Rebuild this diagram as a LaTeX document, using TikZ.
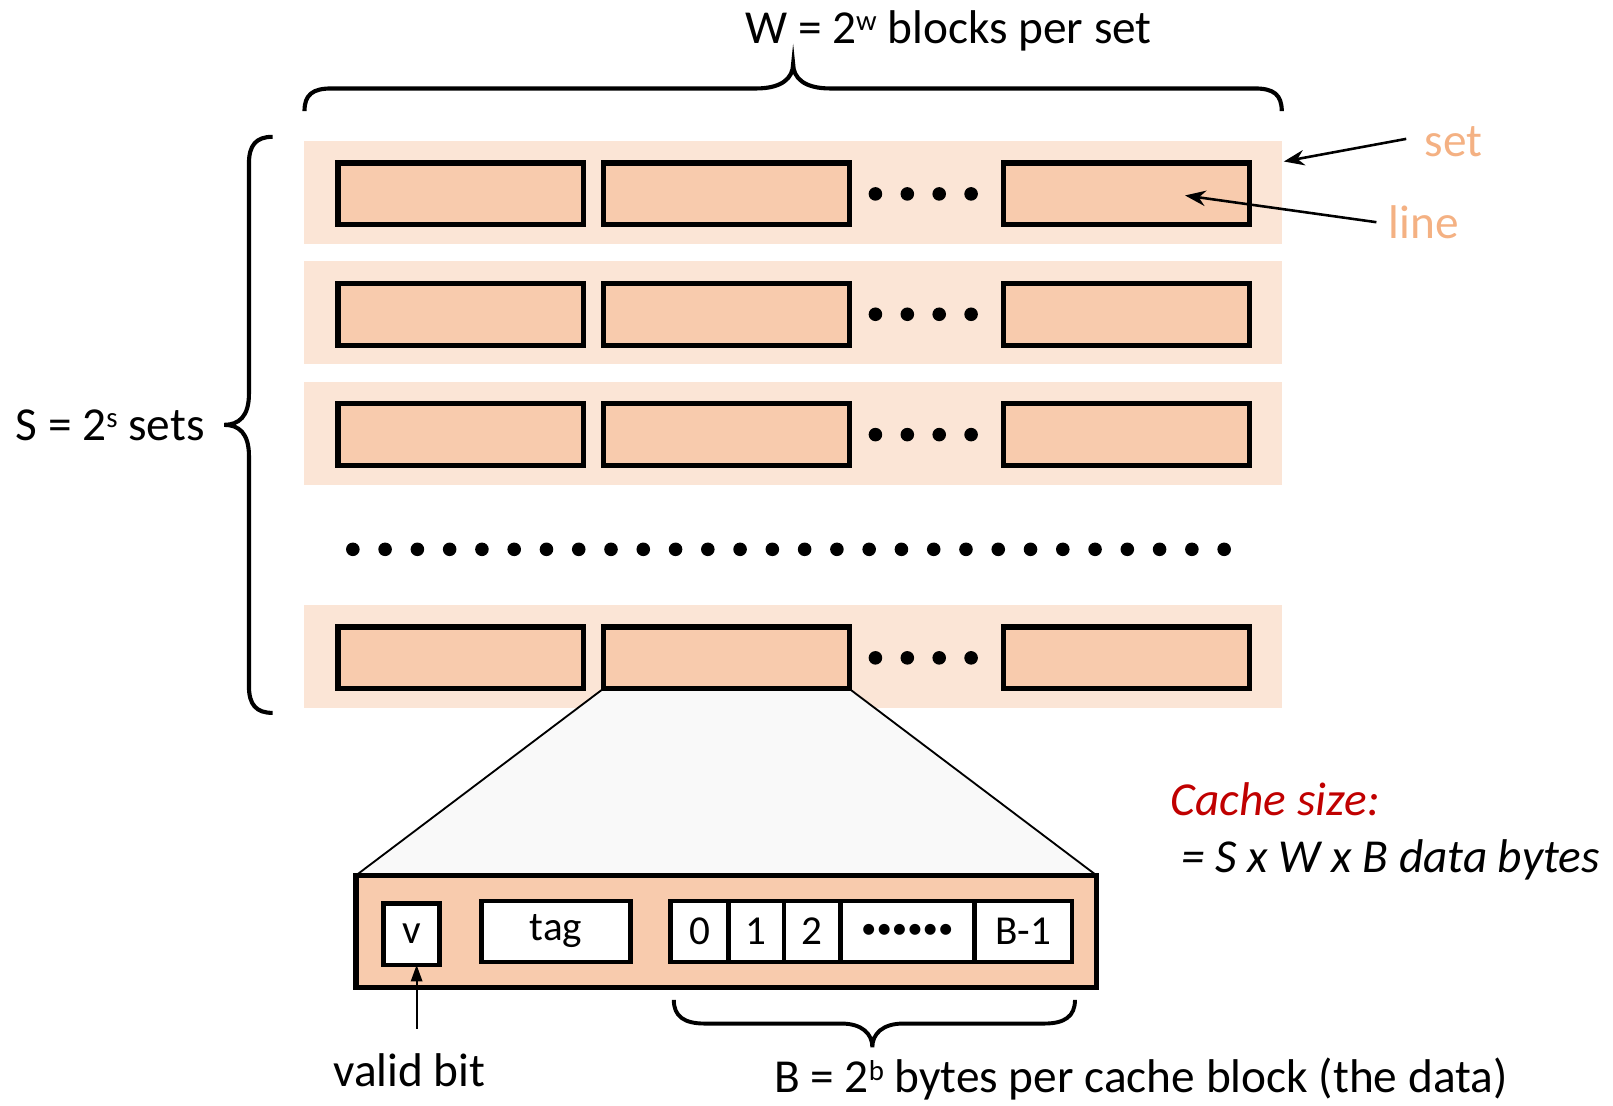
\documentclass[tikz,border=0pt]{standalone}
\usepackage{fontspec}
\setmainfont{Carlito}
\usetikzlibrary{arrows.meta,calc}
\definecolor{bandc}{HTML}{FBE5D6}
\definecolor{blkc}{HTML}{F8CBAD}
\definecolor{lblc}{HTML}{F4B183}
\definecolor{redc}{HTML}{C00000}
\definecolor{trapc}{HTML}{F9F9F9}
\pgfdeclarelayer{bandlayer}
\pgfdeclarelayer{traplayer}
\pgfsetlayers{bandlayer,traplayer,main}
\newcommand\mysup[1]{\raisebox{12pt}{\fontsize{28pt}{28pt}\selectfont #1}}
\begin{document}
\begin{tikzpicture}[x=1pt,y=-1pt,
  bigtxt/.style={font=\fontsize{46pt}{54pt}\selectfont, inner sep=0pt},
  celltxt/.style={font=\fontsize{40pt}{46pt}\selectfont},
  band/.style={rectangle, fill=bandc, draw=none, minimum width=950pt, minimum height=100pt, inner sep=0pt, outer sep=0pt},
  blk/.style={rectangle, fill=blkc, draw=black, line width=5pt, minimum width=239pt, minimum height=60pt, inner sep=0pt, outer sep=0pt},
  cell/.style={rectangle, fill=white, draw=black, line width=4.5pt, minimum height=59pt, inner sep=0pt, outer sep=0pt, celltxt},
  brc/.style={draw=black, line width=4pt},
  pointer/.style={-{Stealth[length=20pt,width=15pt]}, line width=2.5pt},
  ]
\useasboundingbox (0,0) rectangle (1568,1075);

% sets and lines
\foreach \i/\t in {1/137,2/254,3/371,4/588}{
  \begin{pgfonlayer}{bandlayer}
    \node[band] (set\i) at (771,\t+50) {};
  \end{pgfonlayer}
  \node[blk] (b\i1) at (448,\t+51.5) {};
  \node[blk] (b\i2) at (706,\t+51.5) {};
  \node[blk] (b\i3) at (1095,\t+51.5) {};
  \foreach \x in {851,882,913,944}{
    \fill (\x,\t+51.5) circle[radius=6.6pt];
  }
}
% row of dots between sets
\foreach \k in {0,...,27}{
  \fill (343+\k*31.37,534) circle[radius=6.6pt];
}

% top brace and title
\draw[brc] (296,108) .. controls (296,92) and (304,86) .. (322,86) -- (735,86)
  .. controls (760,86) and (771,76) .. (771,62)
  .. controls (771,76) and (782,86) .. (807,86) -- (1220,86)
  .. controls (1238,86) and (1246,92) .. (1246,108);
\node[bigtxt, anchor=base] (wlbl) at (922,42) {W = 2\mysup{w} blocks per set};

% left brace and label
\draw[brc] (265,133) .. controls (249,133) and (242,141) .. (242,159) -- (242,383)
  .. controls (242,405) and (232,413) .. (218,413)
  .. controls (232,413) and (242,421) .. (242,443) -- (242,667)
  .. controls (242,685) and (249,693) .. (265,693);
\node[bigtxt, anchor=base] (slbl) at (107,428) {S = 2\mysup{s} sets};

% set / line labels
\node[bigtxt, anchor=base, text=lblc] (setlbl) at (1413,152) {set};
\node[bigtxt, anchor=base, text=lblc] (linelbl) at (1384,232) {line};
\coordinate (setpt) at (1248,157);
\coordinate (setfrom) at (1367,135);
\coordinate (linept) at (1152,190);
\coordinate (linefrom) at (1338,216);
\draw[pointer] (setfrom) -- (setpt);
\draw[pointer] (linefrom) -- (linept);

% detail block
\node[rectangle, fill=blkc, draw=black, line width=5pt, minimum width=720pt, minimum height=109pt, inner sep=0pt, outer sep=0pt] (det) at (706,905.5) {};
\begin{pgfonlayer}{traplayer}
  \draw[fill=trapc, line width=1.8pt, line join=round] (b42.south west) -- (b42.south east) -- (det.north east) -- (det.north west) -- cycle;
\end{pgfonlayer}

\node[cell, minimum width=54pt, minimum height=60pt] (v) at (400,908) {v};
\node[cell, minimum width=145pt] (tag) at (540.5,905.5) {tag};
\node[cell, minimum width=56pt] (c0) at (680,905.5) {0};
\node[cell, minimum width=54pt] (c1) at (735,905.5) {1};
\node[cell, minimum width=55pt] (c2) at (789.5,905.5) {2};
\node[cell, minimum width=130pt, font=\fontsize{30pt}{36pt}\selectfont] (cd) at (882,905.5) {••••••};
\node[cell, minimum width=95pt] (cB) at (994.5,905.5) {B-1};

% valid bit
\coordinate (vb) at (405,1000);
\draw[-{Triangle[length=16pt,width=11pt]}, line width=2pt] (vb) -- (vb |- v.south);
\node[bigtxt, anchor=base] (vlbl) at (398,1056) {valid bit};

% bottom brace
\draw[brc, line width=3.8pt] (655,972) .. controls (655,988) and (665,995) .. (685,995) -- (818,995)
  .. controls (838,995) and (848,1005) .. (848,1018)
  .. controls (848,1005) and (858,995) .. (878,995) -- (1015,995)
  .. controls (1035,995) and (1045,988) .. (1045,972);
\node[bigtxt, anchor=base] (blbl) at (1109,1062) {B = 2\mysup{b} bytes per cache block (the data)};

% cache size
\node[bigtxt, anchor=base west, text=redc, font=\fontsize{46pt}{54pt}\selectfont\itshape] (cs) at (1138,793) {Cache size:};
\node[bigtxt, anchor=base west, font=\fontsize{46pt}{54pt}\selectfont\itshape] (cs2) at (1148,848) {= S x W x B data bytes};
\end{tikzpicture}
\end{document}
